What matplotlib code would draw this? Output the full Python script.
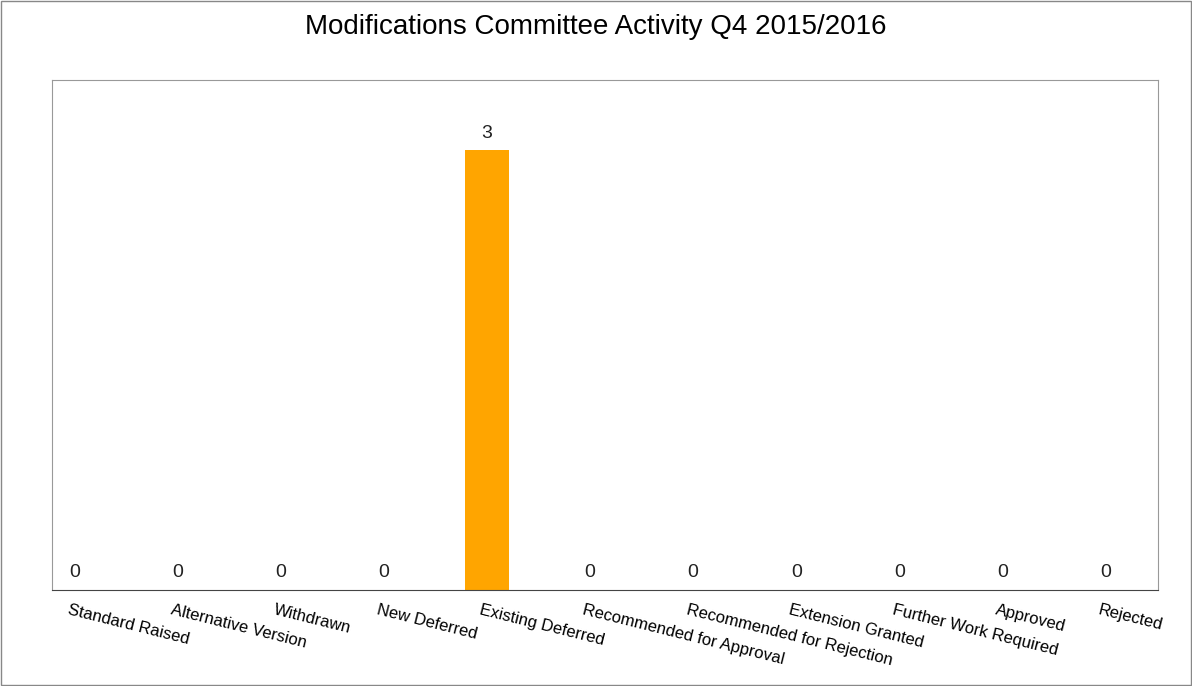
import matplotlib
matplotlib.use("Agg")
import matplotlib.pyplot as plt
from matplotlib.patches import Rectangle
import matplotlib.transforms as mt

categories = ["Standard Raised", "Alternative Version", "Withdrawn", "New Deferred",
              "Existing Deferred", "Recommended for Approval", "Recommended for Rejection",
              "Extension Granted", "Further Work Required", "Approved", "Rejected"]
values = [0, 0, 0, 0, 3, 0, 0, 0, 0, 0, 0]

plt.rcParams['font.family'] = ['Liberation Sans', 'DejaVu Sans']
fig = plt.figure(figsize=(11.92, 6.86), dpi=100)
fig.patches.append(Rectangle((0.001, 0.001), 0.998, 0.998, transform=fig.transFigure,
                             fill=False, edgecolor='#888888', linewidth=1))
ax = fig.add_axes([52/1192, 1 - 590/686, (1158-52)/1192, (590-80)/686])
x = list(range(len(categories)))
ax.bar(x, values, width=0.42, color='#FFA500')
for xi, v in zip(x, values):
    ax.text(xi, v + 0.06, str(v), ha='center', va='bottom', fontsize=14, color='#222222')
ax.set_xlim(-0.22, len(categories) - 0.49)
ax.set_ylim(0, 3.48)
ax.set_yticks([])
ax.set_xticks(x)
ax.set_xticklabels(categories, rotation=-14, ha='left', rotation_mode='anchor', fontsize=12)
ax.tick_params(axis='x', length=0, pad=9)
for s in ax.spines.values():
    s.set_color('#999999')
ax.spines['bottom'].set_color('#444444')
off = mt.ScaledTranslation(-5/100, 0, fig.dpi_scale_trans)
for lbl in ax.get_xticklabels():
    lbl.set_transform(lbl.get_transform() + off)
fig.text(0.5, 1 - 27/686, "Modifications Committee Activity Q4 2015/2016", ha='center', va='center', fontsize=20)
fig.savefig("out.png", dpi=100)
